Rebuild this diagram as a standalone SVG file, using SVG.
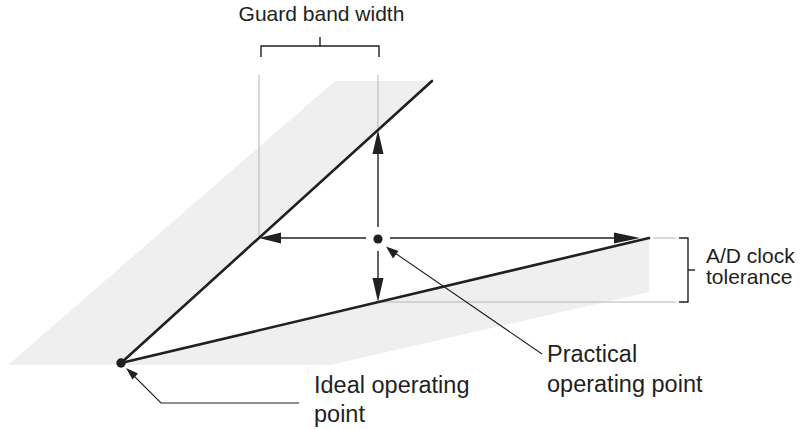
<svg xmlns="http://www.w3.org/2000/svg" width="800" height="429" viewBox="0 0 800 429">
<style>
.lbl{font-family:"Liberation Sans",Arial,sans-serif;fill:#231f20}
.s{font-size:21px}
.m{font-size:23.5px}
.guide{stroke:#b4b4b4;stroke-width:1;fill:none}
.ln{stroke:#231f20;stroke-width:1.4;fill:none}
.thin{stroke:#231f20;stroke-width:1.1;fill:none}
.thick{stroke:#231f20;stroke-width:2.6;fill:none;stroke-linecap:round}
.ah{fill:#231f20}
</style>
<rect width="800" height="429" fill="#ffffff"/>
<g id="shade">
<polygon points="8,365 335,81 432,81 121,363 649,238 649,292 330,365" fill="#efefef"/>
</g>
<g id="guides">
<line class="guide" x1="259" y1="75" x2="259" y2="238"/>
<line class="guide" x1="378" y1="75" x2="378" y2="132"/>
<line class="guide" x1="653" y1="238" x2="676" y2="238"/>
<line class="guide" x1="380" y1="302" x2="676" y2="302"/>
</g>
<g id="operating-lines">
<line class="thick" x1="121" y1="363" x2="432" y2="81"/>
<line class="thick" x1="121" y1="363" x2="649" y2="238"/>
</g>
<g id="connectors">
<line class="ln" x1="276" y1="238" x2="366" y2="238"/>
<line class="ln" x1="390" y1="238" x2="620" y2="238"/>
<line class="ln" x1="378" y1="150" x2="378" y2="227"/>
<line class="ln" x1="378" y1="251" x2="378" y2="283"/>
<polygon class="ah" points="259,238 281,232.5 281,243.5"/>
<polygon class="ah" points="640,238 614,232.5 614,243.5"/>
<polygon class="ah" points="378,130 372.5,154 383.5,154"/>
<polygon class="ah" points="378,302 372.5,278 383.5,278"/>
<polyline class="thin" points="542,354 392,251"/>
<polygon class="ah" points="386,246.5 398.5,251 393,258.5"/>
<polyline class="thin" points="299,403 161,403 131,373"/>
<polygon class="ah" points="126,368 132.5,379.5 138,373.5"/>
</g>
<g id="guard-band-bracket">
<polyline class="ln" points="261,57 261,46 379,46 379,57"/>
<line class="ln" x1="320" y1="46" x2="320" y2="37"/>
<text class="lbl s" x="321.5" y="21" text-anchor="middle">Guard band width</text>
</g>
<g id="tolerance-bracket">
<polyline class="ln" points="679,238 688,238 688,302 679,302"/>
<line class="ln" x1="688" y1="270" x2="695" y2="270"/>
<text class="lbl s" x="706" y="263">A/D clock</text>
<text class="lbl s" x="706" y="284">tolerance</text>
</g>
<g id="practical-point">
<circle cx="378" cy="239" r="4.6" fill="#231f20"/>
<text class="lbl m" x="547" y="362">Practical</text>
<text class="lbl m" x="547" y="392">operating point</text>
</g>
<g id="ideal-point">
<circle cx="121" cy="363" r="4.7" fill="#231f20"/>
<text class="lbl m" x="314" y="393">Ideal operating</text>
<text class="lbl m" x="314" y="422">point</text>
</g>
</svg>
